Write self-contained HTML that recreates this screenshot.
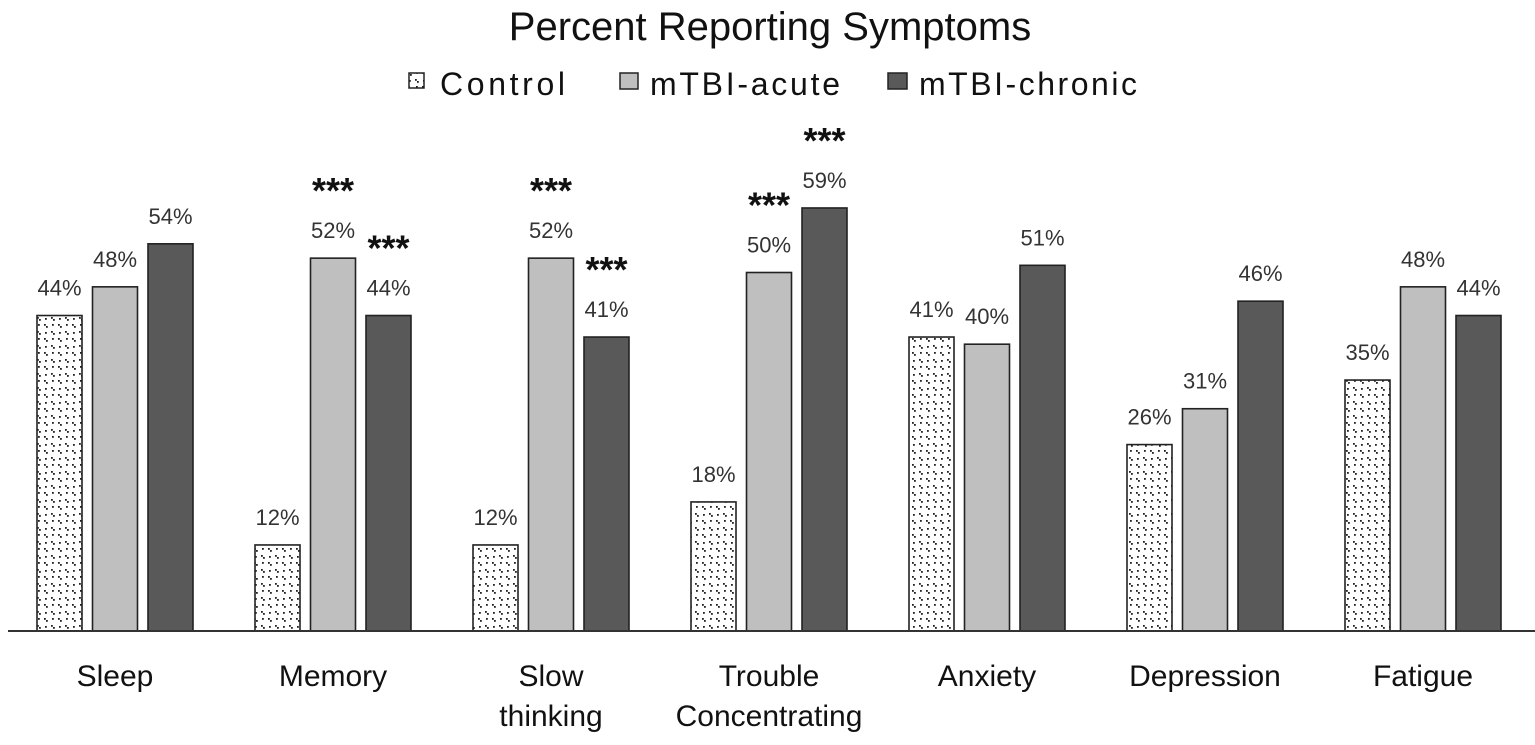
<!DOCTYPE html>
<html><head><meta charset="utf-8"><style>
body{margin:0;background:#fff;width:1535px;height:740px;overflow:hidden;font-family:"Liberation Sans",sans-serif;}
</style></head><body>
<svg width="1535" height="740">
<defs>
<pattern id="dots" width="14" height="14" patternUnits="userSpaceOnUse">
<rect width="14" height="14" fill="#fff"/>
<rect x="2" y="2" width="1.8" height="1.8" fill="#222"/><rect x="4" y="4" width="1.8" height="1.8" fill="#222"/>
<rect x="9" y="9" width="1.8" height="1.8" fill="#222"/><rect x="11" y="11" width="1.8" height="1.8" fill="#222"/>
<rect x="10" y="2" width="1.8" height="1.8" fill="#222"/><rect x="3" y="10" width="1.8" height="1.8" fill="#222"/>
</pattern>
</defs>
<text x="770" y="40" text-anchor="middle" font-size="40" fill="#111">Percent Reporting Symptoms</text>
<g>
<rect x="409" y="73" width="15" height="15" fill="url(#dots)" stroke="#222" stroke-width="1.5"/>
<text x="440" y="95" font-size="32" fill="#111" textLength="125">Control</text>
<rect x="620" y="73" width="18" height="16" fill="#bfbfbf" stroke="#222" stroke-width="1.5"/>
<text x="650" y="95" font-size="32" fill="#111" textLength="190">mTBI-acute</text>
<rect x="888" y="73" width="19" height="16" fill="#595959" stroke="#222" stroke-width="1.5"/>
<text x="919" y="95" font-size="32" fill="#111" textLength="218">mTBI-chronic</text>
</g>
<g id="plot"></g>
<line x1="8" y1="631" x2="1535" y2="631" stroke="#333" stroke-width="2"/>
</svg>
<script>
const categories=[["Sleep"],["Memory"],["Slow","thinking"],["Trouble","Concentrating"],["Anxiety"],["Depression"],["Fatigue"]];
const control=[44,12,12,18,41,26,35];
const acute=[48,52,52,50,40,31,48];
const chronic=[54,44,41,59,51,46,44];
const sigAcute=[false,true,true,true,false,false,false];
const sigChronic=[false,true,true,true,false,false,false];
const series=[{n:"control",v:control,s:null,f:"url(#dots)"},{n:"acute",v:acute,s:sigAcute,f:"#bfbfbf"},{n:"chronic",v:chronic,s:sigChronic,f:"#595959"}];
const base=631,ppu=7.17,g0=37,gstep=218,bstep=55.5,bw=45;
const y=v=>base-v*ppu;
const NS="http://www.w3.org/2000/svg";
const plot=document.getElementById('plot');
function mk(t,a){const e=document.createElementNS(NS,t);for(const k in a)e.setAttribute(k,a[k]);plot.appendChild(e);return e;}
categories.forEach((c,i)=>{
  const gx=g0+i*gstep;
  series.forEach((s,j)=>{
    const x=gx+j*bstep,v=s.v[i],top=y(v);
    const r=mk('rect',{x:x,y:top,width:bw,height:base-top,fill:s.f,stroke:'#222','stroke-width':1.6});
    
    
    const t=mk('text',{x:x+bw/2,y:top-20,'text-anchor':'middle','font-size':22,fill:'#333'});
    t.textContent=v+'%';
    
    
    if(s.s&&s.s[i]){
      const st=mk('text',{x:x+bw/2,y:top-55,'text-anchor':'middle','font-size':36,'font-weight':'bold',fill:'#111'});
      st.textContent='***';
      
      
    }
  });
  c.forEach((line,k)=>{
    const t=mk('text',{x:gx+bstep+bw/2,y:686+k*40,'text-anchor':'middle','font-size':30,fill:'#111'});
    t.textContent=line;
    
    
  });
});
</script>
</body></html>
